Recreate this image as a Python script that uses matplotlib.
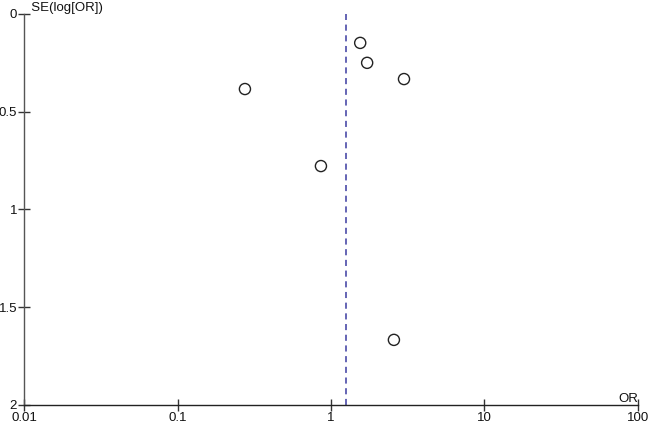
import matplotlib
matplotlib.use("Agg")
import matplotlib.pyplot as plt
import numpy as np

plt.rcParams['font.family'] = ['Liberation Sans', 'DejaVu Sans']

# Study estimates
odds_ratio = [1.55, 1.72, 2.99, 0.275, 0.86, 2.57]
se_log_or = [0.148, 0.25, 0.333, 0.384, 0.778, 1.667]
pooled_or = 1.25

x_ticks = [0.01, 0.1, 1, 10, 100]
x_labels = ["0.01", "0.1", "1", "10", "100"]
y_ticks = [0, 0.5, 1, 1.5, 2]
y_labels = ["0", "0.5", "1", "1.5", "2"]

fs = 9.5

fig = plt.figure(figsize=(6.49, 4.23), dpi=100)
ax = fig.add_axes([0.037, 0.0426, 0.946, 0.9244])

ax.scatter(odds_ratio, se_log_or, s=64, facecolors="none", edgecolors="#222222",
           linewidths=1.0, zorder=3)
ax.axvline(pooled_or, color="#3a3aa0", linestyle=(0, (4, 3)), linewidth=1.1)

ax.set_xscale("log")
ax.set_xlim(0.01, 100)
ax.set_ylim(2, 0)
ax.set_xticks(x_ticks)
ax.set_xticklabels(x_labels)
ax.xaxis.set_minor_locator(matplotlib.ticker.NullLocator())
ax.set_yticks(y_ticks)
ax.set_yticklabels(y_labels)

for side in ["top", "right"]:
    ax.spines[side].set_visible(False)
ax.spines["left"].set_color("#555555")
ax.spines["bottom"].set_color("#222222")
for side in ["left", "bottom"]:
    ax.spines[side].set_linewidth(1.0)
ax.tick_params(direction="inout", length=8, width=1.0, colors="#333333",
               labelsize=fs, labelcolor="#111111", pad=1)

ax.text(0.01, 0, "  SE(log[OR])", fontsize=fs, ha="left", va="bottom",
        color="#111111")
ax.text(100, 2, "OR", fontsize=fs, ha="right", va="bottom", color="#111111")

fig.savefig("out.png", dpi=100)
